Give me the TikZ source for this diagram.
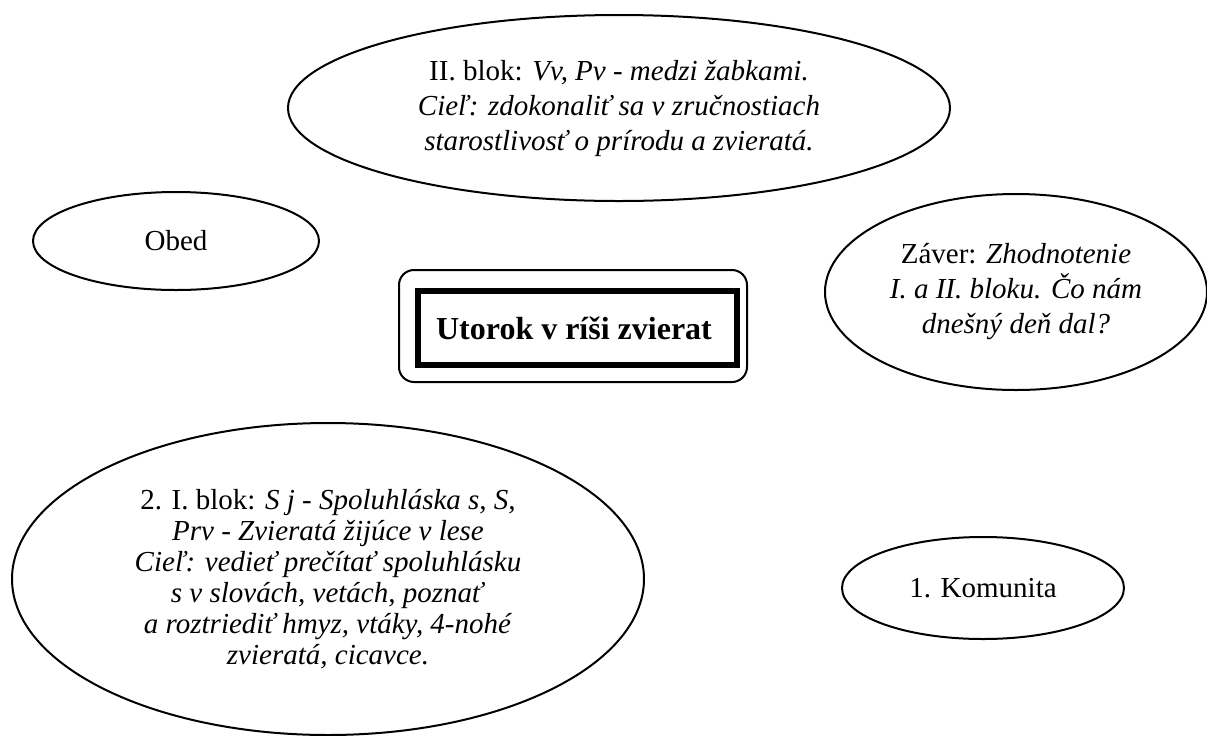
\documentclass[tikz,border=0pt]{standalone}
\usepackage{fontspec}
\setmainfont{Liberation Serif}
\usetikzlibrary{shapes.geometric}
\newcommand\bodyfnt{\fontsize{14.5pt}{17.5pt}\selectfont}
\newcommand\denseftn{\fontsize{14.5pt}{15.5pt}\selectfont}
\newcommand\titlefnt{\fontsize{16pt}{19pt}\selectfont\bfseries}
\tikzset{
  bubble/.style={draw, ellipse, line width=1pt, inner sep=0pt, align=center, font=\bodyfnt},
  outerbox/.style={draw, rectangle, rounded corners=7.5pt, line width=1pt, inner sep=0pt},
  innerbox/.style={draw, rectangle, line width=3pt, inner sep=0pt, font=\titlefnt}
}
\begin{document}
\begin{tikzpicture}[x=0.5pt,y=-0.5pt]
\useasboundingbox[fill=white] (0,0) rectangle (1207,735);
% top ellipse
\node[bubble, minimum width=331pt, minimum height=93pt] (blok2) at (619,108)
  {II. blok: \textit{Vv, Pv - medzi žabkami.}\\
   \textit{Cieľ: zdokonaliť sa v zručnostiach}\\
   \textit{starostlivosť o prírodu a zvieratá.}};
% Obed
\node[bubble, minimum width=143pt, minimum height=49pt] (obed) at (176,241) {Obed};
% title
\node[outerbox, minimum width=174pt, minimum height=56pt] (titleouter) at (573,326) {};
\node[innerbox, minimum width=159.5pt, minimum height=37pt] (title) at (577,328)
  {Utorok v ríši zvierat\hspace*{3pt}};
% Zaver
\node[bubble, minimum width=191pt, minimum height=98pt] (zaver) at (1016,292)
  {Záver: \textit{Zhodnotenie}\\
   \textit{I. a II. bloku. Čo nám}\\
   \textit{dnešný deň dal?}};
% bottom-left
\node[bubble, font=\denseftn, minimum width=316pt, minimum height=156pt] (blok1) at (328,579)
  {2. I. blok: \textit{S j - Spoluhláska s, S,}\\
   \textit{Prv - Zvieratá žijúce v lese}\\
   \textit{Cieľ: vedieť prečítať spoluhlásku}\\
   \textit{s v slovách, vetách, poznať}\\
   \textit{a roztriediť hmyz, vtáky, 4-nohé}\\
   \textit{zvieratá, cicavce.}};
% Komunita
\node[bubble, minimum width=141pt, minimum height=51pt] (komunita) at (983,588) {1. Komunita};
\end{tikzpicture}
\end{document}
